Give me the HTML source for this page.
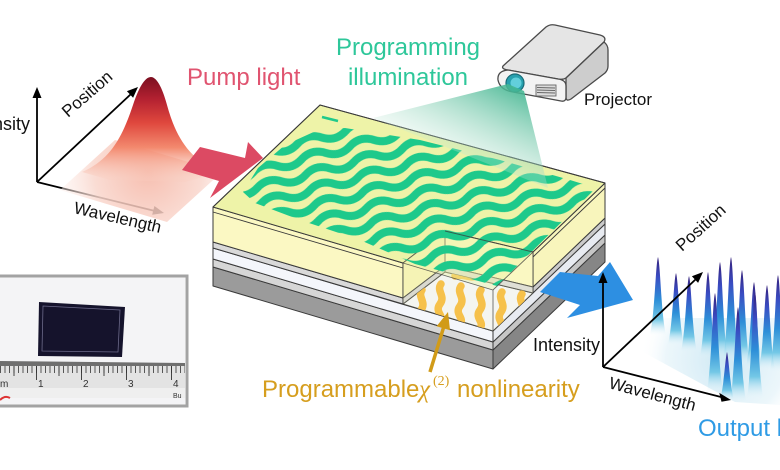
<!DOCTYPE html>
<html><head><meta charset="utf-8"><style>
html,body{margin:0;padding:0;background:#fff;}
svg{display:block;}
</style></head><body>
<svg width="780" height="470" viewBox="0 0 780 470" xmlns="http://www.w3.org/2000/svg" font-family="'Liberation Sans', Arial, sans-serif">
<defs>
 <pattern id="wv" patternUnits="userSpaceOnUse" width="50" height="16" patternTransform="rotate(-15)">
  <path d="M-25,8 Q-12.5,16 0,8 T25,8 T50,8 T75,8" fill="none" stroke="#1ec98b" stroke-width="8"/>
 </pattern>
 <clipPath id="gclip"><polygon points="243,192 258,168 285,145 318,130 345,128 420,140 500,160 570,180 596,188 497,286 415,264 360,240 300,220 255,203"/></clipPath>
 <clipPath id="fclip"><polygon points="403,304 445,272 533,293 493,331"/></clipPath>
 <clipPath id="inset"><rect x="0" y="277" width="185" height="128"/></clipPath>
 <linearGradient id="mtn" gradientUnits="userSpaceOnUse" x1="0" y1="77" x2="0" y2="178">
  <stop offset="0" stop-color="#7c0f20"/>
  <stop offset="0.22" stop-color="#b42131"/>
  <stop offset="0.45" stop-color="#df473d"/>
  <stop offset="0.7" stop-color="#f38a6f"/>
  <stop offset="1" stop-color="#f9cdbf" stop-opacity="0.3"/>
 </linearGradient>
 <radialGradient id="base" gradientUnits="userSpaceOnUse" cx="148" cy="172" r="90">
  <stop offset="0" stop-color="#f5b3a2"/>
  <stop offset="0.6" stop-color="#f9d6cc"/>
  <stop offset="1" stop-color="#fdf0ec" stop-opacity="0.5"/>
 </radialGradient>
 <linearGradient id="beam" gradientUnits="userSpaceOnUse" x1="515" y1="85" x2="470" y2="180">
  <stop offset="0" stop-color="#3fb48f" stop-opacity="0.9"/>
  <stop offset="0.5" stop-color="#8fd3ba" stop-opacity="0.55"/>
  <stop offset="1" stop-color="#d5efe2" stop-opacity="0.15"/>
 </linearGradient>
 <linearGradient id="pk" x1="0" y1="0" x2="0" y2="1">
  <stop offset="0" stop-color="#35207a"/>
  <stop offset="0.25" stop-color="#3a4cc2"/>
  <stop offset="0.55" stop-color="#2d8fd8"/>
  <stop offset="0.8" stop-color="#74c8e6"/>
  <stop offset="1" stop-color="#e6f5fb" stop-opacity="0"/>
 </linearGradient>
 <radialGradient id="haze" gradientUnits="userSpaceOnUse" cx="725" cy="360" r="85">
  <stop offset="0" stop-color="#cde8f4"/>
  <stop offset="0.7" stop-color="#e4f3f9" stop-opacity="0.7"/>
  <stop offset="1" stop-color="#ffffff" stop-opacity="0"/>
 </radialGradient>
 <pattern id="tick" patternUnits="userSpaceOnUse" x="0" y="366" width="4.5" height="20">
  <line x1="0.5" y1="0" x2="0.5" y2="7" stroke="#333" stroke-width="0.8"/>
 </pattern>
</defs>

<!-- LEFT PLOT -->
<g stroke="#000" stroke-width="1.8" fill="none">
 <line x1="37" y1="182" x2="37" y2="95"/>
 <line x1="37" y1="182" x2="131" y2="94"/>
 <line x1="37" y1="182" x2="155" y2="211"/>
</g>
<polygon points="37,87 32.5,98 41.5,98" fill="#000"/>
<polygon points="138,87 126.9,91.2 133.1,97.8" fill="#000"/>
<polygon points="164,213 154.4,206 152.2,214.8" fill="#000"/>
<polygon points="60,190 115,140 222,172 167,222" fill="url(#base)" opacity="0.85"/>
<path d="M82,172 C110,160 122,138 133,105 C140,84 146,77 151,77 C156,77 162,86 167,105 C176,138 190,160 220,172 L185,182 L110,180 Z" fill="url(#mtn)"/>
<text x="-37" y="130" font-size="18" fill="#111">Intensity</text>
<text x="68" y="118" font-size="17" fill="#111" transform="rotate(-41 68 118)">Position</text>
<text x="73" y="213" font-size="17" fill="#111" transform="rotate(13 73 213)">Wavelength</text>
<text x="187" y="85" font-size="24" fill="#e05470">Pump light</text>

<!-- pump arrow -->
<polygon points="182,170 200,147 245,158 248,142 263,158 210,198 219,181" fill="#dc4a63"/>

<!-- DEVICE -->
<g stroke="#3a3a3a" stroke-width="1" stroke-linejoin="round">
 <polygon points="213,267 493,350 493,369 213,286" fill="#9b9b9b"/>
 <polygon points="493,350 605,243 605,262 493,369" fill="#868686"/>
 <polygon points="213,259 493,342 493,350 213,267" fill="#d6d6d6"/>
 <polygon points="493,342 605,235 605,243 493,350" fill="#c6c6c6"/>
 <polygon points="213,248 493,331 493,342 213,259" fill="#f4f6fb"/>
 <polygon points="493,331 605,224 605,235 493,342" fill="#e8ebf1"/>
 <polygon points="213,242 403,298 403,304 213,248" fill="#d9d9d9"/>
 <polygon points="533,287 605,218 605,224 533,293" fill="#cbcbcb"/>
 <polygon points="213,207 403,263 403,298 213,242" fill="#fbf8c3"/>
 <polygon points="533,252 605,183 605,218 533,287" fill="#f8f5bc"/>
 <polygon points="403,304 445,272 533,293 493,331" fill="#f3f5fb"/>
 <polygon points="403,263 445,231 445,266 403,298" fill="#f5f2b3"/>
 <polygon points="403,298 445,266 445,272 403,304" fill="#d2d2d2"/>
 <polygon points="445,231 533,252 533,287 445,266" fill="#fbf8c3"/>
 <polygon points="445,266 533,287 533,293 445,272" fill="#d9d9d9"/>
 <polygon points="213,207 403,263 445,231 533,252 605,183 320,105" fill="#eef3a8"/>
</g>
<g stroke="#3a3a3a" stroke-width="0.9" fill="none">
 <line x1="213" y1="212" x2="403" y2="268"/>
 <line x1="533" y1="257" x2="605" y2="188"/>
</g>
<g clip-path="url(#fclip)" fill="none" stroke="#f6b530" stroke-width="7.5" stroke-linecap="round">
 <path d="M422,290 c-5,7 5,12 -1,20 s5,12 0,18"/>
 <path d="M441,284 c-5,7 5,12 -1,20 s5,12 0,18"/>
 <path d="M461,286 c-5,7 5,12 -1,20 s5,12 0,18"/>
 <path d="M481,290 c-5,7 5,12 -1,20 s5,12 0,18"/>
 <path d="M502,292 c-5,7 5,12 -1,20 s5,12 0,18"/>
 <path d="M522,294 c-5,7 5,12 -1,20"/>
 <path d="M455,276 c8,-3 14,3 22,0 s14,3 22,0"/>
</g>
<polygon points="403,263 445,231 533,252 493,290" fill="#eef3a8" opacity="0.5"/>
<polygon points="403,263 493,290 493,331 403,304" fill="#fbf8c3" opacity="0.18"/>
<polygon points="493,290 533,252 533,293 493,331" fill="#fbf8c3" opacity="0.18"/>
<rect x="200" y="100" width="420" height="200" fill="url(#wv)" clip-path="url(#gclip)"/>
<line x1="322" y1="117" x2="338" y2="121" stroke="#1ec98b" stroke-width="2.5"/>
<g stroke="#3a3a3a" stroke-width="0.9" fill="none" opacity="0.75">
 <polyline points="403,263 493,290 533,252"/>
 <line x1="493" y1="290" x2="493" y2="331"/>
 <line x1="445" y1="231" x2="533" y2="252"/>
</g>
<g stroke="#3a3a3a" stroke-width="1" fill="none">
 <polyline points="213,207 320,105 605,183"/>
</g>

<!-- PROJECTOR -->
<g stroke="#4a4a4a" stroke-width="1.3" stroke-linejoin="round">
 <path d="M503,66 L546,27 Q550,24 555,25 L600,35 Q607,37 604,42 L566,78 Q563,80 558,79 L508,70 Q501,69 503,66Z" fill="#e5e5e5"/>
 <path d="M604,42 Q608,45 608,50 L608,66 Q608,70 605,73 L571,99 Q566,102 566,97 L566,78 Z" fill="#cdcdcd"/>
 <path d="M508,70 L558,79 Q566,80 566,86 L566,97 Q566,102 561,101 L513,92 Q500,90 498,80 Q497,71 508,70Z" fill="#f3f3f3"/>
</g>
<circle cx="515" cy="83" r="9" fill="#27a0ae" stroke="#1b6c78" stroke-width="1.2"/>
<circle cx="516" cy="83" r="5.5" fill="#62cfdb"/>
<g stroke="#666" stroke-width="0.9">
 <rect x="536" y="85" width="20" height="11" fill="#dcdcdc"/>
 <line x1="537" y1="87.5" x2="555" y2="88"/>
 <line x1="537" y1="90" x2="555" y2="90.5"/>
 <line x1="537" y1="92.5" x2="555" y2="93"/>
</g>
<text x="584" y="105" font-size="17" fill="#111">Projector</text>

<polygon points="508,84 524,91 548,188 373,118" fill="url(#beam)"/>

<text x="408" y="55" font-size="24" fill="#2ec79a" text-anchor="middle">Programming</text>
<text x="408" y="85" font-size="24" fill="#2ec79a" text-anchor="middle">illumination</text>

<polygon points="540,292 560,272 598,276 610,262 633,300 567,318 580,305" fill="#2d8fe2"/>

<!-- RIGHT PLOT -->
<polygon points="630,345 665,318 780,318 780,405 735,402" fill="url(#haze)"/>
<g fill="url(#pk)">
 <path d="M650,335 C655,312 655.5,265 658,257 C660.5,265 661,312 666,335 Z"/>
 <path d="M668,345 C673,323 673.5,281 676,273 C678.5,281 679,323 684,345 Z"/>
 <path d="M681,352 C686,329 686.5,284 689,276 C691.5,284 692,329 697,352 Z"/>
 <path d="M700,358 C705,332 705.5,280 708,272 C710.5,280 711,332 716,358 Z"/>
 <path d="M712,360 C717,331 717.5,270 720,262 C722.5,270 723,331 728,360 Z"/>
 <path d="M723,362 C728,330 728.5,265 731,257 C733.5,265 734,330 739,362 Z"/>
 <path d="M734,365 C739,336 739.5,278 742,270 C744.5,278 745,336 750,365 Z"/>
 <path d="M746,368 C751,342 751.5,290 754,282 C756.5,290 757,342 762,368 Z"/>
 <path d="M759,370 C764,344 764.5,293 767,285 C769.5,293 770,344 775,370 Z"/>
 <path d="M770,372 C775,343 775.5,283 778,275 C780.5,283 781,343 786,372 Z"/>
 <path d="M707,392 C712,362 712.5,301 715,293 C717.5,301 718,362 723,392 Z"/>
 <path d="M730,402 C735,373 735.5,315 738,307 C740.5,315 741,373 746,402 Z"/>
 <path d="M747,398 C752,366 752.5,300 755,292 C757.5,300 758,366 763,398 Z"/>
 <path d="M720,400 C724,386 725,360 727,352 C729,360 730,386 734,400 Z"/>
</g>
<g stroke="#000" stroke-width="1.8" fill="none">
 <line x1="603" y1="367" x2="603" y2="281"/>
 <line x1="603" y1="367" x2="696" y2="279"/>
 <line x1="603" y1="367" x2="721" y2="397"/>
</g>
<polygon points="603,272 598.5,283 607.5,283" fill="#000"/>
<polygon points="703,272 691.9,276.3 698.1,282.9" fill="#000"/>
<polygon points="731,400 719.3,392.9 721.5,401.7" fill="#000"/>
<text x="533" y="351" font-size="18" fill="#111">Intensity</text>
<text x="682" y="252" font-size="17" fill="#111" transform="rotate(-42 682 252)">Position</text>
<text x="608" y="388" font-size="17" fill="#111" transform="rotate(15 608 388)">Wavelength</text>
<text x="698" y="436" font-size="24" fill="#2f9be5">Output light</text>

<!-- INSET PHOTO -->
<g clip-path="url(#inset)">
 <rect x="0" y="277" width="185" height="128" fill="#f4f4f6"/>
 <polygon points="39,302 125,307 122,357 38,356" fill="#15132c"/>
 <polygon points="43,306 120,310 118,352 42,351" fill="none" stroke="#6c6a8a" stroke-width="0.8"/>
 <polygon points="0,361 185,363 185,367 0,366" fill="#6f6f6f"/>
 <rect x="0" y="366" width="185" height="22" fill="#e3e3e3"/>
 <rect x="0" y="388" width="185" height="10" fill="#efefef"/>
 <rect x="0" y="366" width="185" height="7" fill="url(#tick)"/>
 <g stroke="#333" stroke-width="0.9">
  <line x1="36.5" y1="366" x2="36.5" y2="380"/>
  <line x1="81.5" y1="366" x2="81.5" y2="380"/>
  <line x1="126.5" y1="366" x2="126.5" y2="380"/>
  <line x1="171.5" y1="366" x2="171.5" y2="380"/>
  <line x1="14" y1="366" x2="14" y2="376"/>
  <line x1="59" y1="366" x2="59" y2="376"/>
  <line x1="104" y1="366" x2="104" y2="376"/>
  <line x1="149" y1="366" x2="149" y2="376"/>
 </g>
 <g font-size="10" fill="#333">
  <text x="0" y="387">m</text>
  <text x="38" y="387">1</text>
  <text x="83" y="387">2</text>
  <text x="128" y="387">3</text>
  <text x="173" y="387">4</text>
  <text x="173" y="398" font-size="7">Bu</text>
 </g>
 <path d="M0,400 Q5,395 10,398" stroke="#d33" stroke-width="2" fill="none"/>
</g>
<rect x="-3" y="276" width="190" height="130" fill="none" stroke="#a3a3a3" stroke-width="3"/>

<!-- orange pointer -->
<line x1="430" y1="372" x2="444" y2="326" stroke="#d19b18" stroke-width="3.5"/>
<polygon points="448,312 436.6,326.3 450,330.3" fill="#d19b18"/>
<text x="262" y="397" font-size="24" fill="#d69e1e">Programmable</text>
<text x="419" y="397" font-size="25" fill="#d69e1e" font-family="'Liberation Serif', serif" font-style="italic">χ</text>
<text x="433" y="385" font-size="14" fill="#d69e1e" font-family="'Liberation Serif', serif">(2)</text>
<text x="457" y="397" font-size="24" fill="#d69e1e">nonlinearity</text>
</svg>
</body></html>
